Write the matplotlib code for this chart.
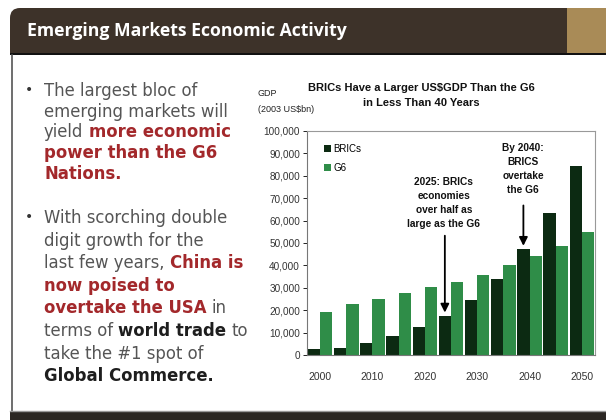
import numpy as np
import matplotlib
matplotlib.use("Agg")
import matplotlib.pyplot as plt
from matplotlib.patches import Rectangle, FancyBboxPatch

W, H = 606, 420

# ── Chart data (2003 US$bn) ─────────────────────────────────────────────
years = [2000, 2005, 2010, 2015, 2020, 2025, 2030, 2035, 2040, 2045, 2050]
brics = [2500, 3300, 5500, 8500, 12500, 17400, 24600, 34000, 47200, 63600, 84500]
g6 = [19400, 22600, 25200, 27600, 30400, 32800, 35900, 40100, 44000, 48800, 54700]
y_ticks = [0, 10000, 20000, 30000, 40000, 50000, 60000, 70000, 80000, 90000, 100000]
x_labels = ["2000", "", "2010", "", "2020", "", "2030", "", "2040", "", "2050"]

# ── Slide text ──────────────────────────────────────────────────────────
header = "Emerging Markets Economic Activity"
bullet1 = [
    [("The largest bloc of", "n")],
    [("emerging markets will", "n")],
    [("yield", "n"), ("more economic", "r")],
    [("power than the G6", "r")],
    [("Nations.", "r")],
]
bullet2 = [
    [("With scorching double", "n")],
    [("digit growth for the", "n")],
    [("last few years,", "n"), ("China is", "r")],
    [("now poised to", "r")],
    [("overtake the USA", "r"), ("in", "n")],
    [("terms of", "n"), ("world trade", "b"), ("to", "n")],
    [("take the #1 spot of", "n")],
    [("Global Commerce.", "b")],
]

DARK = "#3d3229"
GOLD = "#a98b57"
BRICS_C = "#0c2a12"
G6_C = "#2f8d48"
STYLES = {"n": ("#555555", "normal"), "r": ("#a3282b", "bold"), "b": ("#1e1e1e", "bold")}

fig = plt.figure(figsize=(W / 100, H / 100), dpi=100)
fig.patch.set_facecolor("white")

# background axes in pixel units
bg = fig.add_axes([0, 0, 1, 1])
bg.set_xlim(0, W)
bg.set_ylim(H, 0)
bg.axis("off")

bg.add_patch(FancyBboxPatch((10, 8), 570, 46, boxstyle="round,pad=0,rounding_size=10",
                            facecolor=DARK, edgecolor="none"))
bg.add_patch(Rectangle((10, 30), 560, 24, facecolor=DARK, edgecolor="none"))
bg.add_patch(Rectangle((567, 8), 39, 46, facecolor=GOLD, edgecolor="none"))
bg.add_patch(Rectangle((10, 53), 596, 2, facecolor="#111111", edgecolor="none"))
bg.plot([11.5, 11.5], [55, 411], color="#555555", lw=1.2)
bg.plot([10, W], [410.5, 410.5], color="#999999", lw=1.0)
bg.add_patch(Rectangle((10, 412), 596, 8, facecolor="#2b2723", edgecolor="none"))

bg.text(27, 31, header, color="white", fontsize=12.7, fontweight="bold",
        family="Open Sans", va="center", ha="left")


def draw_line(x, y, segments, size=11.9):
    prev = None
    for txt, style in segments:
        color, weight = STYLES[style]
        if prev is None:
            t = bg.text(x, y, txt, color=color, fontweight=weight, fontsize=size,
                        family="DejaVu Sans", va="baseline", ha="left")
        else:
            t = bg.annotate(txt, xy=(1, y), xycoords=(prev, "data"),
                            xytext=(3.8, 0), textcoords="offset points",
                            color=color, fontweight=weight, fontsize=size,
                            family="DejaVu Sans", va="baseline", ha="left")
        prev = t


def draw_bullet(y0, lines, step):
    bg.text(29, y0 - 2, "•", color="#333333", fontsize=10, va="baseline", ha="center")
    for i, segs in enumerate(lines):
        draw_line(44, y0 + i * step, segs)


draw_bullet(96, bullet1, 20.7)
draw_bullet(223, bullet2, 22.6)

# ── Chart ───────────────────────────────────────────────────────────────
ax = fig.add_axes([307 / W, 65 / H, 288 / W, 224 / H])
x = np.arange(len(years))
bw = 0.47
ax.bar(x - bw / 2, brics, width=bw, color=BRICS_C, label="BRICs")
ax.bar(x + bw / 2, g6, width=bw, color=G6_C, label="G6")
ax.set_xlim(-0.5, len(years) - 0.5)
ax.set_ylim(0, 100000)
ax.set_yticks(y_ticks)
ax.set_yticklabels([f"{v:,}" for v in y_ticks], fontsize=7.2, color="#333333",
                   family="Liberation Sans")
ax.set_xticks(x)
ax.set_xticklabels(x_labels, fontsize=7.5, color="#333333", family="Liberation Sans")
ax.tick_params(axis="y", length=3, width=0.6, pad=2)
ax.tick_params(axis="x", length=0, pad=12)
for s in ("top", "right"):
    ax.spines[s].set_color("#999999")
    ax.spines[s].set_linewidth(0.8)
ax.spines["left"].set_color("#777777")
ax.spines["bottom"].set_color("#777777")
ax.spines["left"].set_linewidth(0.8)
ax.spines["bottom"].set_linewidth(0.8)

ax.legend(loc="upper left", bbox_to_anchor=(0.03, 0.98), frameon=False,
          handlelength=0.7, handleheight=0.7, handletextpad=0.2, labelspacing=0.9,
          prop={"family": "Liberation Sans", "size": 7})

ann_kw = dict(ha="center", va="center", fontsize=7.3, fontweight="bold",
              family="Liberation Sans", linespacing=1.5, color="#111111")
ax.annotate("", xy=(5 - bw / 2, brics[5] + 300), xytext=(5 - bw / 2, 54500),
            arrowprops=dict(arrowstyle="-|>,head_width=0.25,head_length=0.5",
                            color="black", lw=1.3))
ax.text(4.73, 68000, "2025: BRICs\neconomies\nover half as\nlarge as the G6", **ann_kw)
ax.annotate("", xy=(8 - bw / 2, brics[8] + 300), xytext=(8 - bw / 2, 68000),
            arrowprops=dict(arrowstyle="-|>,head_width=0.25,head_length=0.5",
                            color="black", lw=1.3))
ax.text(7.76, 83000, "By 2040:\nBRICS\novertake\nthe G6", **ann_kw)

title_kw = dict(ha="center", va="center", fontsize=8, fontweight="bold",
                family="Liberation Sans", color="#111111")
fig.text(421 / W, 1 - 88 / H, "BRICs Have a Larger US$GDP Than the G6", **title_kw)
fig.text(421 / W, 1 - 103 / H, "in Less Than 40 Years", **title_kw)
fig.text(258 / W, 1 - 93 / H, "GDP", ha="left", va="center",
         fontsize=6.5, family="Liberation Sans", color="#222222")
fig.text(258 / W, 1 - 109 / H, "(2003 US$bn)", ha="left", va="center",
         fontsize=6.5, family="Liberation Sans", color="#222222")

fig.savefig("out.png", dpi=100, facecolor="white")
